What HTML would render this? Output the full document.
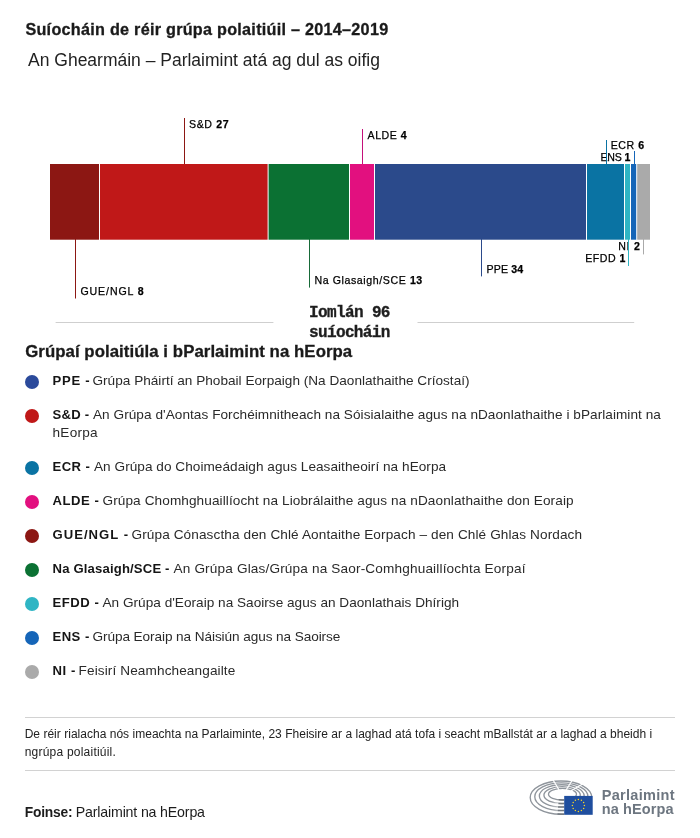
<!DOCTYPE html>
<html lang="ga">
<head>
<meta charset="utf-8">
<title>Suíocháin de réir grúpa polaitiúil – 2014–2019</title>
<style>
html,body{margin:0;padding:0;background:#fff;}
body{width:700px;height:838px;position:relative;overflow:hidden;font-family:"Liberation Sans",sans-serif;color:#1f1f1f;}
.t{position:absolute;white-space:nowrap;line-height:20px;height:20px;margin:0;}
#txt{position:absolute;left:0;top:0;width:700px;height:838px;will-change:transform;}
.t b{font-weight:bold;}
.g b{color:#151515;}
svg{position:absolute;left:0;top:0;z-index:2;}
.dot{position:absolute;left:25px;width:14px;height:14px;border-radius:50%;}
.hr{position:absolute;left:25px;width:650px;height:1px;background:#d2d2d2;}
</style>
</head>
<body>
<div id="txt">
<div id="t1" class="t" style="left:25.42px;top:19.39px;font-size:16.2px;letter-spacing:0.264px;color:#1a1a1a;-webkit-text-stroke:0.3px #1a1a1a;"><b>Suíocháin de réir grúpa polaitiúil – 2014–2019</b></div>
<div id="t2" class="t" style="left:28.08px;top:49.94px;font-size:17.5px;letter-spacing:-0.008px;color:#222;">An Ghearmáin – Parlaimint atá ag dul as oifig</div>
<div id="l1" class="t" style="left:80.42px;top:281.33px;font-size:10.6px;letter-spacing:0.900px;color:#000;-webkit-text-stroke:0.25px #000;">GUE/NGL <b>8</b></div>
<div id="l2" class="t" style="left:189.00px;top:114.33px;font-size:10.6px;letter-spacing:0.612px;color:#000;-webkit-text-stroke:0.25px #000;">S&amp;D <b>27</b></div>
<div id="l3" class="t" style="left:314.42px;top:270.33px;font-size:10.6px;letter-spacing:0.593px;color:#000;-webkit-text-stroke:0.25px #000;">Na Glasaigh/SCE <b>13</b></div>
<div id="l4" class="t" style="left:367.58px;top:125.33px;font-size:10.6px;letter-spacing:0.504px;color:#000;-webkit-text-stroke:0.25px #000;">ALDE <b>4</b></div>
<div id="l5" class="t" style="left:486.42px;top:259.33px;font-size:10.6px;letter-spacing:0.180px;color:#000;-webkit-text-stroke:0.25px #000;">PPE <b>34</b></div>
<div id="l6" class="t" style="left:610.68px;top:135.33px;font-size:10.6px;letter-spacing:0.585px;color:#000;-webkit-text-stroke:0.25px #000;">ECR <b>6</b></div>
<div id="l7" class="t" style="left:600.42px;top:147.33px;font-size:10.6px;letter-spacing:-0.135px;color:#000;-webkit-text-stroke:0.25px #000;">ENS <b>1</b></div>
<div id="l8" class="t" style="left:585.34px;top:248.33px;font-size:10.6px;letter-spacing:0.468px;color:#000;-webkit-text-stroke:0.25px #000;">EFDD <b>1</b></div>
<div id="l9" class="t" style="left:618.18px;top:236.33px;font-size:10.6px;letter-spacing:0.720px;color:#000;-webkit-text-stroke:0.25px #000;">NI <b>2</b></div>
<div id="m1" class="t" style="left:309.10px;top:302.74px;font-size:16px;letter-spacing:-0.630px;font-family:'Liberation Mono',monospace;color:#1e1e1e;-webkit-text-stroke:0.35px #1e1e1e;"><b>Iomlán 96</b></div>
<div id="m2" class="t" style="left:309.10px;top:322.74px;font-size:16px;letter-spacing:-0.653px;font-family:'Liberation Mono',monospace;color:#1e1e1e;-webkit-text-stroke:0.35px #1e1e1e;"><b>suíocháin</b></div>
<div id="h1" class="t" style="left:25.18px;top:342.18px;font-size:16.8px;letter-spacing:0.063px;color:#1a1a1a;-webkit-text-stroke:0.3px #1a1a1a;"><b>Grúpaí polaitiúla i bParlaimint na hEorpa</b></div>
<div id="g1b" class="t g" style="left:52.52px;top:371.46px;font-size:13.1px;letter-spacing:0.720px;color:#151515;"><b>PPE -</b></div>
<div id="g1r" class="t g" style="left:92.50px;top:371.29px;font-size:13.6px;letter-spacing:0.012px;color:#2a2a2a;">Grúpa Pháirtí an Phobail Eorpaigh (Na Daonlathaithe Críostaí)</div>
<div id="g2b" class="t g" style="left:52.52px;top:405.46px;font-size:13.1px;letter-spacing:0.225px;color:#151515;"><b>S&amp;D -</b></div>
<div id="g2r" class="t g" style="left:93.00px;top:405.29px;font-size:13.6px;letter-spacing:0.051px;color:#2a2a2a;">An Grúpa d'Aontas Forchéimnitheach na Sóisialaithe agus na nDaonlathaithe i bParlaimint na</div>
<div id="g2x" class="t g" style="left:52.52px;top:423.29px;font-size:13.6px;letter-spacing:0.252px;color:#2a2a2a;">hEorpa</div>
<div id="g3b" class="t g" style="left:52.52px;top:457.46px;font-size:13.1px;letter-spacing:0.450px;color:#151515;"><b>ECR -</b></div>
<div id="g3r" class="t g" style="left:94.00px;top:457.29px;font-size:13.6px;letter-spacing:0.042px;color:#2a2a2a;">An Grúpa do Choimeádaigh agus Leasaitheoirí na hEorpa</div>
<div id="g4b" class="t g" style="left:52.52px;top:491.46px;font-size:13.1px;letter-spacing:0.540px;color:#151515;"><b>ALDE -</b></div>
<div id="g4r" class="t g" style="left:102.50px;top:491.29px;font-size:13.6px;letter-spacing:0.098px;color:#2a2a2a;">Grúpa Chomhghuaillíocht na Liobrálaithe agus na nDaonlathaithe don Eoraip</div>
<div id="g5b" class="t g" style="left:52.52px;top:525.46px;font-size:13.1px;letter-spacing:1.012px;color:#151515;"><b>GUE/NGL -</b></div>
<div id="g5r" class="t g" style="left:131.50px;top:525.29px;font-size:13.6px;letter-spacing:0.106px;color:#2a2a2a;">Grúpa Cónasctha den Chlé Aontaithe Eorpach – den Chlé Ghlas Nordach</div>
<div id="g6b" class="t g" style="left:52.52px;top:559.46px;font-size:13.1px;letter-spacing:0.169px;color:#151515;"><b>Na Glasaigh/SCE -</b></div>
<div id="g6r" class="t g" style="left:173.50px;top:559.29px;font-size:13.6px;letter-spacing:0.159px;color:#2a2a2a;">An Grúpa Glas/Grúpa na Saor-Comhghuaillíochta Eorpaí</div>
<div id="g7b" class="t g" style="left:52.52px;top:593.46px;font-size:13.1px;letter-spacing:0.540px;color:#151515;"><b>EFDD -</b></div>
<div id="g7r" class="t g" style="left:102.50px;top:593.29px;font-size:13.6px;letter-spacing:0.020px;color:#2a2a2a;">An Grúpa d'Eoraip na Saoirse agus an Daonlathais Dhírigh</div>
<div id="g8b" class="t g" style="left:52.52px;top:627.46px;font-size:13.1px;letter-spacing:0.450px;color:#151515;"><b>ENS -</b></div>
<div id="g8r" class="t g" style="left:92.50px;top:627.29px;font-size:13.6px;letter-spacing:-0.081px;color:#2a2a2a;">Grúpa Eoraip na Náisiún agus na Saoirse</div>
<div id="g9b" class="t g" style="left:52.52px;top:661.46px;font-size:13.1px;letter-spacing:0.600px;color:#151515;"><b>NI -</b></div>
<div id="g9r" class="t g" style="left:78.60px;top:661.29px;font-size:13.6px;letter-spacing:0.110px;color:#2a2a2a;">Feisirí Neamhcheangailte</div>
<div id="n1" class="t" style="left:24.68px;top:723.84px;font-size:12px;letter-spacing:0.021px;color:#222;">De réir rialacha nós imeachta na Parlaiminte, 23 Fheisire ar a laghad atá tofa i seacht mBallstát ar a laghad a bheidh i</div>
<div id="n2" class="t" style="left:24.68px;top:741.84px;font-size:12px;letter-spacing:0.222px;color:#222;">ngrúpa polaitiúil.</div>
<div id="s1b" class="t" style="left:24.68px;top:803.22px;font-size:13.8px;letter-spacing:-0.180px;color:#1c1c1c;"><b>Foinse:</b></div>
<div id="s1r" class="t" style="left:75.76px;top:802.08px;font-size:14.2px;letter-spacing:-0.171px;color:#1c1c1c;">Parlaimint na hEorpa</div>
<div id="p1" class="t" style="left:601.76px;top:784.98px;font-size:14.5px;letter-spacing:0.300px;color:#6d7680;"><b>Parlaimint</b></div>
<div id="p2" class="t" style="left:601.76px;top:798.98px;font-size:14.5px;letter-spacing:0.113px;color:#6d7680;"><b>na hEorpa</b></div>
</div>
<div class="dot" style="top:375px;background:#2b4a9b"></div>
<div class="dot" style="top:409px;background:#c01818"></div>
<div class="dot" style="top:461px;background:#0a73a3"></div>
<div class="dot" style="top:495px;background:#e2107f"></div>
<div class="dot" style="top:529px;background:#8c1713"></div>
<div class="dot" style="top:563px;background:#0b7133"></div>
<div class="dot" style="top:597px;background:#2fb5c4"></div>
<div class="dot" style="top:631px;background:#1565b8"></div>
<div class="dot" style="top:665px;background:#aaaaaa"></div>
<svg width="700" height="838" viewBox="0 0 700 838">
  <rect x="55.6" y="322" width="217.8" height="1" fill="#cfcfcf"/>
  <rect x="417.5" y="322" width="216.7" height="1" fill="#cfcfcf"/>
  <g stroke-width="1" fill="none">
    <line x1="75.5" y1="239" x2="75.5" y2="298.5" stroke="#8c1713"/>
    <line x1="184.5" y1="118" x2="184.5" y2="165" stroke="#8c1713"/>
    <line x1="309.5" y1="239" x2="309.5" y2="287.6" stroke="#176a38"/>
    <line x1="362.5" y1="129" x2="362.5" y2="165" stroke="#c4107a"/>
    <line x1="481.5" y1="239" x2="481.5" y2="276.4" stroke="#2b4a8b"/>
    <line x1="606.5" y1="140" x2="606.5" y2="165" stroke="#0a73a3"/>
    <line x1="628.5" y1="239" x2="628.5" y2="266" stroke="#2fb5c4"/>
    <line x1="634.5" y1="151" x2="634.5" y2="165" stroke="#1565b8"/>
    <line x1="643.5" y1="239" x2="643.5" y2="254.4" stroke="#aaaaaa"/>
  </g>
  <g>
    <rect x="50" y="164" width="49.00" height="75.7" fill="#8c1713"/>
    <rect x="100" y="164" width="167.60" height="75.7" fill="#c01818"/>
    <rect x="268.6" y="164" width="80.40" height="75.7" fill="#0b7133"/>
    <rect x="350" y="164" width="24.00" height="75.7" fill="#e2107f"/>
    <rect x="375" y="164" width="211.00" height="75.7" fill="#2b4a8b"/>
    <rect x="587" y="164" width="37.00" height="75.7" fill="#0a73a3"/>
    <rect x="625" y="164" width="5.00" height="75.7" fill="#2fb5c4"/>
    <rect x="631" y="164" width="5.20" height="75.7" fill="#1565b8"/>
    <rect x="637.2" y="164" width="12.80" height="75.7" fill="#aaaaaa"/>
  </g>
  <!-- EP logo -->
  <defs>
    <clipPath id="hc"><path d="M525 775 H596 V795.9 H564.2 V820 H525 Z"/></clipPath>
  </defs>
  <g clip-path="url(#hc)" fill="none" stroke="#8f959c" stroke-width="1.35">
    <ellipse cx="561.00" cy="797.60" rx="30.80" ry="16.60"/>
    <ellipse cx="561.38" cy="796.75" rx="26.60" ry="13.90"/>
    <ellipse cx="561.75" cy="795.90" rx="22.40" ry="11.20"/>
    <ellipse cx="562.12" cy="795.05" rx="18.20" ry="8.50"/>
    <ellipse cx="562.50" cy="794.20" rx="14.00" ry="5.80"/>
  </g>
  <g stroke="#fff" stroke-width="1.3" fill="none">
    <line x1="562" y1="795" x2="552.5" y2="779"/>
    <line x1="563" y1="795" x2="573" y2="779"/>
    <line x1="564" y1="795" x2="586" y2="782"/>
    <line x1="548" y1="803.3" x2="564" y2="803.3" stroke-width="0.9"/>
    <line x1="548" y1="807.2" x2="564" y2="807.2" stroke-width="0.9"/>
    <line x1="548" y1="811.2" x2="564" y2="811.2" stroke-width="0.9"/>
  </g>
  <g stroke="#72787f" stroke-width="1.5" fill="none">
    <line x1="557.5" y1="814.05" x2="564.2" y2="814.15"/>
    <line x1="557.8" y1="810.50" x2="564.2" y2="810.60"/>
    <line x1="558.1" y1="806.95" x2="564.2" y2="807.05"/>
    <line x1="558.4" y1="803.40" x2="564.2" y2="803.50"/>
    <line x1="558.7" y1="799.85" x2="564.2" y2="799.95"/>
  </g>
  <rect x="564.2" y="795.9" width="28.5" height="18.9" fill="#1f4e9e"/>
  <g fill="#f6d327">
    <circle cx="578.4" cy="799.4" r="0.75"/>
    <circle cx="581.4" cy="800.2" r="0.75"/>
    <circle cx="583.6" cy="802.4" r="0.75"/>
    <circle cx="584.4" cy="805.4" r="0.75"/>
    <circle cx="583.6" cy="808.4" r="0.75"/>
    <circle cx="581.4" cy="810.6" r="0.75"/>
    <circle cx="578.4" cy="811.4" r="0.75"/>
    <circle cx="575.4" cy="810.6" r="0.75"/>
    <circle cx="573.2" cy="808.4" r="0.75"/>
    <circle cx="572.4" cy="805.4" r="0.75"/>
    <circle cx="573.2" cy="802.4" r="0.75"/>
    <circle cx="575.4" cy="800.2" r="0.75"/>
  </g>
</svg>
<div class="hr" style="top:717px;"></div>
<div class="hr" style="top:770px;"></div>
</body>
</html>
